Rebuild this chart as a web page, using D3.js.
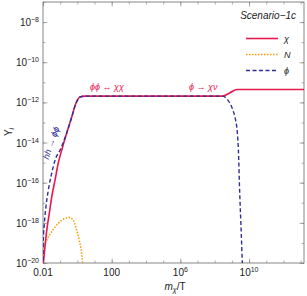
<!DOCTYPE html>
<html>
<head>
<meta charset="utf-8">
<script src="https://cdn.jsdelivr.net/npm/d3@7"></script>
<style>
  body { margin: 0; background: white; }
  text { font-family: "Liberation Sans", Arial, sans-serif; }
</style>
</head>
<body>
<script>
const chiLogX = [-2, -1.92, -1.78, -1.63, -1.49, -1.30, -1.11, -0.91, -0.62, -0.33, -0.08, 0.15, 0.44, 4, 8.45, 8.87, 9.30, 9.6, 13.3];
const chiLogY = [-20.2, -19.5, -18.36, -17.51, -16.70, -15.87, -15.02, -14.38, -13.53, -12.74, -12.04, -11.73, -11.69, -11.69, -11.69, -11.53, -11.36, -11.36, -11.36];

const nLogX = [-1.99, -1.94, -1.78, -1.49, -1.11, -0.72, -0.47, -0.24, -0.04, 0.11, 0.25, 0.31, 0.34];
const nLogY = [-19.6, -19.19, -18.86, -18.44, -18.02, -17.78, -17.73, -17.86, -18.36, -18.86, -19.52, -20, -20.3];

const phiLogX = [-2, -1.98, -1.92, -1.83, -1.69, -1.49, -1.30, -1.01, -0.62, -0.33, -0.08, 0.15, 0.44, 4, 8.45, 8.77, 9.06, 9.22, 9.32, 9.38, 9.45, 9.54, 9.61, 9.63];
const phiLogY = [-20.2, -18.86, -18.01, -17.21, -16.37, -15.52, -14.88, -14.38, -13.53, -12.74, -12.04, -11.73, -11.69, -11.69, -11.69, -11.89, -12.39, -12.89, -13.53, -14.38, -16.37, -18.36, -20, -20.3];

const xMajor = [1e-2, 1e2, 1e6, 1e10];
const xMajorLabels = [["0.01", ""], ["100", ""], ["10", "6"], ["10", "10"]];
const yMajor = [1e-20, 1e-18, 1e-16, 1e-14, 1e-12, 1e-10, 1e-8];
const yMajorLabels = [["10", "−20"], ["10", "−18"], ["10", "−16"], ["10", "−14"], ["10", "−12"], ["10", "−10"], ["10", "−8"]];

const legendNames = ["χ", "N", "ϕ"];
const colors = { chi: "#e8194f", n: "#ff9900", phi: "#2e2e96" };

const width = 307, height = 296;
const margin = { top: 2, right: 3, bottom: 33, left: 43 };

const x = d3.scaleLog()
  .domain([1e-2, Math.pow(10, 13.2)])
  .range([margin.left, width - margin.right]);
const y = d3.scaleLog()
  .domain([1e-20, 1e-7])
  .range([height - margin.bottom, margin.top]);

const xMinor = d3.range(-2, 14).map(e => Math.pow(10, e));
const yMinor = d3.range(-20, -6).map(e => Math.pow(10, e));

const svg = d3.select("body").append("svg")
  .attr("width", width)
  .attr("height", height);

svg.append("rect").attr("width", width).attr("height", height).attr("fill", "white");

svg.append("defs").append("clipPath").attr("id", "plot")
  .append("rect")
  .attr("x", margin.left).attr("y", margin.top)
  .attr("width", width - margin.left - margin.right)
  .attr("height", height - margin.top - margin.bottom);

const frame = "#7a7a7a";

// ticks (inward) on all four sides
function tickAxis(axis, transform, values, size) {
  const g = svg.append("g")
    .attr("transform", transform)
    .call(axis.tickValues(values).tickSizeInner(size).tickSizeOuter(0).tickFormat(""));
  g.select(".domain").remove();
  g.selectAll("line").attr("stroke", frame).attr("stroke-width", 0.6);
  return g;
}
const bottomT = `translate(0,${height - margin.bottom})`;
const topT = `translate(0,${margin.top})`;
const leftT = `translate(${margin.left},0)`;
const rightT = `translate(${width - margin.right},0)`;

tickAxis(d3.axisBottom(x), bottomT, xMinor, -2.5);
tickAxis(d3.axisBottom(x), bottomT, xMajor, -4.5);
tickAxis(d3.axisTop(x), topT, xMinor, -2.5);
tickAxis(d3.axisTop(x), topT, xMajor, -4.5);
tickAxis(d3.axisLeft(y), leftT, yMinor, -2.5);
tickAxis(d3.axisLeft(y), leftT, yMajor, -4.5);
tickAxis(d3.axisRight(y), rightT, yMinor, -2.5);
tickAxis(d3.axisRight(y), rightT, yMajor, -4.5);

// frame
svg.append("rect")
  .attr("x", margin.left).attr("y", margin.top)
  .attr("width", width - margin.left - margin.right)
  .attr("height", height - margin.top - margin.bottom)
  .attr("fill", "none").attr("stroke", frame).attr("stroke-width", 0.9);

// tick labels with superscripts
function label(g, base, sup) {
  g.append("tspan").text(base);
  if (sup) g.append("tspan").attr("dy", -4).attr("font-size", 7).text(sup);
}
xMajor.forEach((v, i) => {
  const t = svg.append("text")
    .attr("x", x(v)).attr("y", height - margin.bottom + 13)
    .attr("text-anchor", "middle").attr("font-size", 10).attr("fill", "#222");
  label(t, xMajorLabels[i][0], xMajorLabels[i][1]);
});
yMajor.forEach((v, i) => {
  const t = svg.append("text")
    .attr("x", margin.left - 4).attr("y", y(v) + 4)
    .attr("text-anchor", "end").attr("font-size", 10).attr("fill", "#222");
  label(t, yMajorLabels[i][0], yMajorLabels[i][1]);
});

// axis titles
const xt = svg.append("text")
  .attr("x", 175).attr("y", 290)
  .attr("text-anchor", "middle").attr("font-size", 10).attr("fill", "#222");
xt.append("tspan").attr("font-style", "italic").text("m");
xt.append("tspan").attr("font-style", "italic").attr("font-size", 7).attr("dy", 2).text("χ");
xt.append("tspan").attr("dy", -2).text("/T");

const yt = svg.append("text")
  .attr("transform", "translate(12,132) rotate(-90)")
  .attr("text-anchor", "middle").attr("font-size", 10).attr("fill", "#222");
yt.append("tspan").text("Y");
yt.append("tspan").attr("font-size", 7).attr("dy", 2).attr("font-style", "italic").text("i");

// curves
const line = d3.line()
  .x(d => x(Math.pow(10, d[0])))
  .y(d => y(Math.pow(10, d[1])))
  .curve(d3.curveMonotoneX);

const plot = svg.append("g").attr("clip-path", "url(#plot)");

plot.append("path")
  .datum(d3.zip(nLogX, nLogY))
  .attr("fill", "none").attr("stroke", colors.n)
  .attr("stroke-width", 1.5).attr("stroke-dasharray", "1.5,1.5")
  .attr("d", line);

plot.append("path")
  .datum(d3.zip(chiLogX, chiLogY))
  .attr("fill", "none").attr("stroke", colors.chi)
  .attr("stroke-width", 1.6)
  .attr("d", line);

plot.append("path")
  .datum(d3.zip(phiLogX, phiLogY))
  .attr("fill", "none").attr("stroke", colors.phi)
  .attr("stroke-width", 1.4).attr("stroke-dasharray", "4,2.5")
  .attr("d", line);

// annotations
svg.append("text")
  .attr("x", 90).attr("y", 90)
  .attr("font-size", 9).attr("font-style", "italic").attr("fill", colors.chi)
  .text("ϕϕ ↔ χχ");
svg.append("text")
  .attr("x", 189).attr("y", 90)
  .attr("font-size", 9).attr("font-style", "italic").attr("fill", colors.chi)
  .text("ϕ → χν");
svg.append("text")
  .attr("transform", "translate(54,144) rotate(-71)")
  .attr("text-anchor", "middle")
  .attr("font-size", 9).attr("font-style", "italic").attr("fill", colors.phi)
  .text("hh → ϕϕ");

// legend
svg.append("text")
  .attr("x", 296).attr("y", 19)
  .attr("text-anchor", "end")
  .attr("font-size", 10).attr("font-style", "italic").attr("fill", "#222")
  .text("Scenario−1c");

const legendStyles = [
  { c: colors.chi, dash: null, w: 1.6 },
  { c: colors.n, dash: "1.5,1.5", w: 1.5 },
  { c: colors.phi, dash: "4,2.5", w: 1.4 }
];
legendNames.forEach((name, i) => {
  const yy = 38.5 + i * 16;
  svg.append("line")
    .attr("x1", 246).attr("x2", 278).attr("y1", yy).attr("y2", yy)
    .attr("stroke", legendStyles[i].c).attr("stroke-width", legendStyles[i].w)
    .attr("stroke-dasharray", legendStyles[i].dash);
  svg.append("text")
    .attr("x", 284).attr("y", yy + 3.5)
    .attr("font-size", 9).attr("font-style", "italic").attr("fill", "#222")
    .text(name);
});
</script>
</body>
</html>
